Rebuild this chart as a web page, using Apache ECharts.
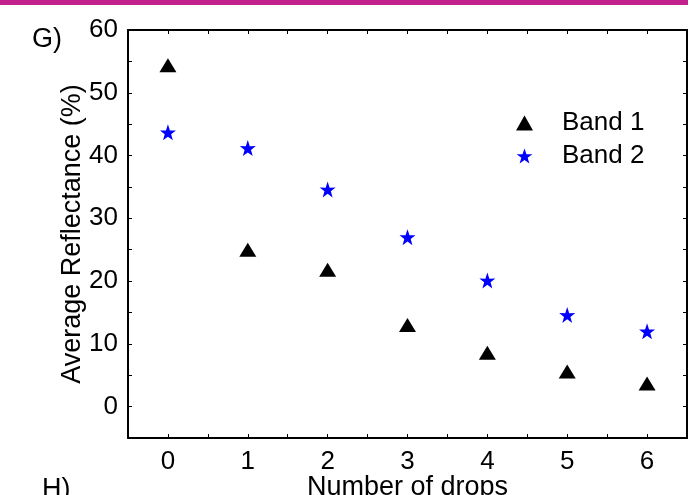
<!DOCTYPE html>
<html>
<head>
<meta charset="utf-8">
<script src="https://cdn.jsdelivr.net/npm/echarts@6/dist/echarts.min.js"></script>
<style>html,body{margin:0;padding:0;background:#fff}#c{width:694px;height:495px}</style>
</head>
<body>
<div id="c"></div>
<script>
const drops = [0, 1, 2, 3, 4, 5, 6];
const band1 = [54.4, 25.0, 21.8, 13.0, 8.6, 5.6, 3.7];
const band2 = [43.7, 41.2, 34.6, 27.0, 20.1, 14.6, 12.0];
const seriesNames = ['Band 1', 'Band 2'];
const xTicks = [0, 1, 2, 3, 4, 5, 6];
const yTicks = [0, 10, 20, 30, 40, 50, 60];

const FONT = "'Liberation Sans', Arial, sans-serif";
const STAR = 'path://M50,0 L61.8,35.1 L97.6,34.5 L69.1,56.1 L79.4,90.5 L50,70 L20.6,90.5 L30.9,56.1 L2.4,34.5 L38.2,35.1 Z';
const chart = echarts.init(document.getElementById('c'), null, {renderer: 'canvas'});

const tickStyle = {show: true, inside: true, length: 4, lineStyle: {color: '#000', width: 1}};
const lineStyle = {show: true, onZero: false, lineStyle: {color: '#000', width: 2}};

chart.setOption({
  animation: false,
  backgroundColor: '#fff',
  grid: {left: 128, right: 7, top: 30, bottom: 57, containLabel: false, outerBoundsMode: 'none'},
  graphic: [
    {type: 'rect', shape: {x: 0, y: 0, width: 688, height: 5}, style: {fill: '#c0218a'}},
    {type: 'text', left: 32, top: 26, style: {text: 'G)', font: '27px ' + FONT, fill: '#000'}},
    {type: 'text', left: 42, top: 476, style: {text: 'H)', font: '27px ' + FONT, fill: '#000'}}
  ],
  legend: {
    data: [
      {name: seriesNames[0], icon: 'triangle'},
      {name: seriesNames[1], icon: STAR}
    ],
    orient: 'vertical',
    left: 511,
    top: 105,
    itemWidth: 17,
    itemHeight: 15,
    itemGap: 7,
    textStyle: {fontFamily: FONT, fontSize: 26, color: '#000', padding: [0, 0, 0, 24]}
  },
  xAxis: [{
    type: 'value', min: -0.5, max: 6.5, interval: 0.5,
    name: 'Number of drops', nameLocation: 'middle', nameGap: 36, nameMoveOverlap: false,
    nameTextStyle: {fontFamily: FONT, fontSize: 27, color: '#000'},
    axisLine: lineStyle, axisTick: tickStyle, splitLine: {show: false},
    axisLabel: {fontFamily: FONT, fontSize: 26, color: '#000', margin: 11,
      formatter: v => xTicks.includes(v) ? String(v) : ''}
  }, {
    type: 'value', position: 'top', min: -0.5, max: 6.5, interval: 0.5,
    axisLine: lineStyle, axisTick: tickStyle, splitLine: {show: false}, axisLabel: {show: false}
  }],
  yAxis: [{
    type: 'value', min: -5, max: 60, interval: 5,
    name: 'Average Reflectance (%)', nameLocation: 'middle', nameGap: 42, nameMoveOverlap: false,
    nameTextStyle: {fontFamily: FONT, fontSize: 27, color: '#000'},
    axisLine: lineStyle, axisTick: tickStyle, splitLine: {show: false},
    axisLabel: {fontFamily: FONT, fontSize: 26, color: '#000', margin: 10,
      formatter: v => yTicks.includes(v) ? String(v) : ''}
  }, {
    type: 'value', position: 'right', min: -5, max: 60, interval: 5,
    axisLine: lineStyle, axisTick: tickStyle, splitLine: {show: false}, axisLabel: {show: false}
  }],
  series: [{
    name: seriesNames[0], type: 'scatter', symbol: 'triangle', symbolSize: [17, 14],
    itemStyle: {color: '#000', opacity: 1},
    data: drops.map((d, i) => [d, band1[i]])
  }, {
    name: seriesNames[1], type: 'scatter', symbol: STAR, symbolSize: 16,
    itemStyle: {color: '#0000ff', opacity: 1},
    data: drops.map((d, i) => [d, band2[i]])
  }]
});
</script>
</body>
</html>
